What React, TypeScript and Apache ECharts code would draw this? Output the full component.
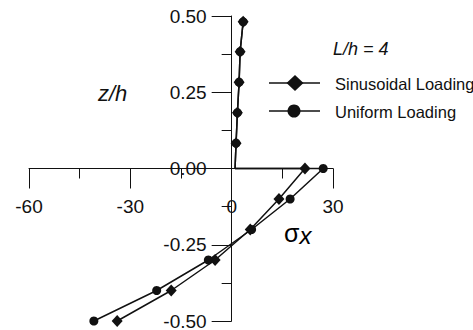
import React, { useEffect, useRef } from "react";
import * as echarts from "echarts";

const xTicks = { min: -60, max: 30, interval: 30 };
const yTicks = { min: -0.5, max: 0.5, interval: 0.25 };

const sinusoidalLower: [number, number][] = [
  [-33.9, -0.5],
  [-17.9, -0.4],
  [-4.9, -0.3],
  [5.5, -0.2],
  [14.0, -0.1],
  [21.7, 0],
];
const uniformLower: [number, number][] = [
  [-40.8, -0.5],
  [-22.2, -0.4],
  [-6.9, -0.3],
  [5.9, -0.2],
  [17.3, -0.1],
  [27.1, 0],
];
const cornerPoint: [number, number] = [1.0, 0];
const upperPoints: [number, number][] = [
  [1.3, 0.083],
  [1.7, 0.183],
  [2.2, 0.283],
  [2.5, 0.383],
  [3.4, 0.481],
];

const seriesNames = ["Sinusoidal Loading", "Uniform Loading"];
const FONT = "'Liberation Sans', Arial, Helvetica, sans-serif";

const GRID = { left: 29, right: 140, top: 16, bottom: 9 };
const W = 473;
const H = 330;

function buildData(lower: [number, number][]) {
  return [
    ...lower.map((p) => ({ value: p })),
    { value: cornerPoint, symbol: "none" },
    ...upperPoints.map((p) => ({ value: p })),
  ];
}

export default function App() {
  const ref = useRef<HTMLDivElement>(null);
  useEffect(() => {
    if (!ref.current) return;
    const chart = echarts.init(ref.current, undefined, { renderer: "svg" });
    const black = "#111";
    const gw = W - GRID.left - GRID.right;
    const gh = H - GRID.top - GRID.bottom;
    // place the axes where the other axis is zero
    const xAxisOffset = -(gh * (0 - yTicks.min)) / (yTicks.max - yTicks.min);
    const yAxisOffset = -(gw * (0 - xTicks.min)) / (xTicks.max - xTicks.min);
    chart.setOption({
      animation: false,
      backgroundColor: "#fff",
      grid: { ...GRID, containLabel: false, outerBoundsMode: "none" },
      xAxis: {
        type: "value",
        position: "bottom",
        offset: xAxisOffset,
        min: xTicks.min,
        max: xTicks.max,
        interval: xTicks.interval,
        axisLine: { onZero: false, lineStyle: { color: black, width: 1 } },
        axisTick: { show: true, length: 20, lineStyle: { color: black } },
        minorTick: { show: true, splitNumber: 2, length: 10, lineStyle: { color: black } },
        splitLine: { show: false },
        minorSplitLine: { show: false },
        axisLabel: { fontFamily: FONT, fontSize: 19, color: black, margin: 28, hideOverlap: false },
      },
      yAxis: {
        type: "value",
        position: "left",
        offset: yAxisOffset,
        min: yTicks.min,
        max: yTicks.max,
        interval: yTicks.interval,
        axisLine: { show: true, onZero: false, lineStyle: { color: black, width: 1 } },
        axisTick: { show: true, length: 20, lineStyle: { color: black } },
        minorTick: { show: true, splitNumber: 2, length: 10, lineStyle: { color: black } },
        splitLine: { show: false },
        minorSplitLine: { show: false },
        axisLabel: {
          fontFamily: FONT,
          fontSize: 19,
          color: black,
          margin: 25,
          hideOverlap: false,
          formatter: (v: number) => v.toFixed(2),
        },
      },
      series: [
        {
          name: seriesNames[0],
          type: "line",
          data: buildData(sinusoidalLower),
          symbol: "diamond",
          symbolSize: [11, 12],
          lineStyle: { color: black, width: 1.5 },
          itemStyle: { color: black },
        },
        {
          name: seriesNames[1],
          type: "line",
          data: buildData(uniformLower),
          symbol: "circle",
          symbolSize: 9,
          lineStyle: { color: black, width: 1.5 },
          itemStyle: { color: black },
        },
      ],
      graphic: [
        {
          type: "text",
          left: 98,
          top: 82,
          style: { text: "z/h", font: `italic 22px ${FONT}`, fill: black },
        },
        {
          type: "text",
          left: 284,
          top: 220,
          style: {
            text: "{a|σ}{b|x}",
            rich: {
              a: { fontFamily: FONT, fontSize: 25, color: black },
              b: { fontFamily: FONT, fontSize: 24, fontStyle: "italic", color: black, padding: [6, 0, 0, 0] },
            },
          },
        },
        {
          type: "text",
          left: 333,
          top: 40,
          style: { text: "L/h = 4", font: `italic 18px ${FONT}`, fill: black },
        },
        {
          type: "line",
          shape: { x1: 269, y1: 83, x2: 320, y2: 83 },
          style: { stroke: black, lineWidth: 1.5 },
        },
        {
          type: "polygon",
          shape: { points: [[295, 75], [303.5, 83], [295, 91], [286.5, 83]] },
          style: { fill: black },
        },
        {
          type: "text",
          left: 335,
          top: 75,
          style: { text: seriesNames[0], font: `16.5px ${FONT}`, fill: black },
        },
        {
          type: "line",
          shape: { x1: 269, y1: 111, x2: 320, y2: 111 },
          style: { stroke: black, lineWidth: 1.5 },
        },
        {
          type: "circle",
          shape: { cx: 294, cy: 111, r: 6.5 },
          style: { fill: black },
        },
        {
          type: "text",
          left: 335,
          top: 103,
          style: { text: seriesNames[1], font: `16.5px ${FONT}`, fill: black },
        },
      ],
    });
    return () => chart.dispose();
  }, []);
  return (
    <div
      ref={ref}
      style={{ position: "fixed", left: 0, top: 0, width: W, height: H, background: "#fff" }}
    />
  );
}
